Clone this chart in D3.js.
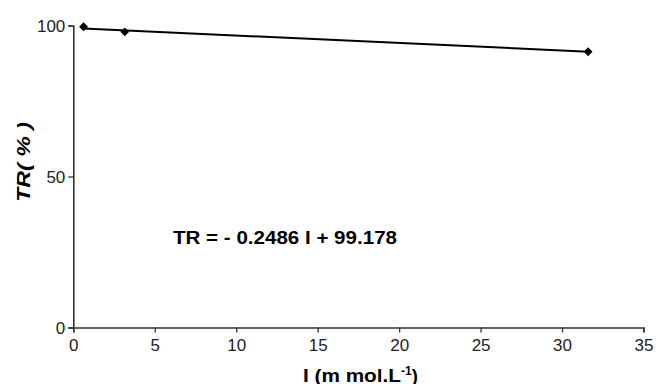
<!DOCTYPE html>
<html>
<head>
<meta charset="utf-8">
<script src="https://cdn.jsdelivr.net/npm/d3@7"></script>
<style>
  html, body { margin: 0; padding: 0; background: #fff; }
  svg { display: block; font-family: "Liberation Sans", Arial, Helvetica, sans-serif; }
</style>
</head>
<body>
<svg id="chart" width="656" height="384"></svg>
<script>
// Ionic strength (mmol/L) and transmission ratio (%)
const ionicStrength = [0.63, 3.16, 31.6];
const trValues = [99.6, 97.9, 91.3];

// Linear fit: TR = slope * I + intercept
const fitSlope = -0.2486;
const fitIntercept = 99.178;

const xTicks = [0, 5, 10, 15, 20, 25, 30, 35];
const yTicks = [0, 50, 100];

const svg = d3.select("#chart");
const margin = { left: 73.3, right: 12, top: 25.5, bottom: 56.5 };
const W = 656, H = 384;

const x = d3.scaleLinear().domain([0, 35]).range([margin.left, 643.5]);
const y = d3.scaleLinear().domain([0, 100]).range([H - margin.bottom, margin.top]);

const axisColor = "#333";

// y axis
const gy = svg.append("g")
  .attr("transform", `translate(${x(0)},0)`)
  .call(d3.axisLeft(y).tickValues(yTicks).tickSize(5).tickPadding(3).tickFormat(d3.format("d")));
// x axis
const gx = svg.append("g")
  .attr("transform", `translate(0,${y(0)})`)
  .call(d3.axisBottom(x).tickValues(xTicks).tickSize(5).tickPadding(5).tickFormat(d3.format("d")));

[gx, gy].forEach(g => {
  g.select(".domain").attr("stroke", axisColor).attr("stroke-width", 1.6);
  g.selectAll(".tick line").attr("stroke", axisColor).attr("stroke-width", 1.3);
  g.selectAll(".tick text")
    .attr("fill", "#222")
    .style("font-size", "17px")
    .style("font-family", "'Liberation Sans', Arial, sans-serif");
});
gy.selectAll(".tick text").attr("dy", "0.36em");
gx.selectAll(".tick text").attr("dy", "0.78em");

// trend line across data extent
const xExt = d3.extent(ionicStrength);
const fitLine = xExt.map(v => [v, fitSlope * v + fitIntercept]);
svg.append("path")
  .datum(fitLine)
  .attr("fill", "none")
  .attr("stroke", "#000")
  .attr("stroke-width", 2)
  .attr("d", d3.line().x(d => x(d[0])).y(d => y(d[1])));

// data markers (diamonds)
svg.append("g")
  .selectAll("path")
  .data(ionicStrength.map((v, i) => [v, trValues[i]]))
  .join("path")
  .attr("transform", d => `translate(${x(d[0])},${y(d[1])})`)
  .attr("d", d3.symbol().type(d3.symbolDiamond2).size(50))
  .attr("fill", "#000");

// equation annotation
svg.append("text")
  .attr("x", 173)
  .attr("y", 244)
  .attr("font-weight", "bold")
  .attr("font-size", 17.5)
  .attr("fill", "#000")
  .attr("textLength", 224)
  .attr("lengthAdjust", "spacingAndGlyphs")
  .text(`TR = - ${Math.abs(fitSlope)} I + ${fitIntercept}`);

// x axis title
const xt = svg.append("text")
  .attr("x", 303)
  .attr("y", 381.5)
  .attr("font-weight", "bold")
  .attr("font-size", 18.5)
  .attr("fill", "#000");
xt.append("tspan").attr("textLength", 98).attr("lengthAdjust", "spacingAndGlyphs").text("I (m mol.L");
xt.append("tspan").attr("dy", -7).attr("font-size", 12).text("-1");
xt.append("tspan").attr("dy", 7).text(")");

// y axis title
svg.append("text")
  .attr("transform", "translate(30,162) rotate(-90)")
  .attr("text-anchor", "middle")
  .attr("font-weight", "bold")
  .attr("font-style", "italic")
  .attr("font-size", 18.5)
  .attr("fill", "#000")
  .attr("textLength", 80)
  .attr("lengthAdjust", "spacingAndGlyphs")
  .text("TR( % )");
</script>
</body>
</html>
